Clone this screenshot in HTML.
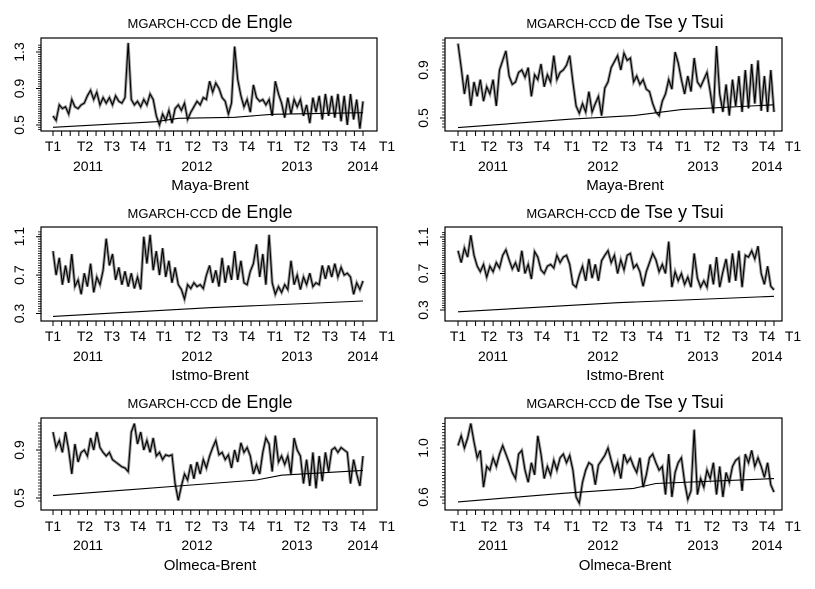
<!DOCTYPE html>
<html><head><meta charset="utf-8"><style>
html,body{margin:0;padding:0;background:#fff;}
svg{display:block;font-family:"Liberation Sans",sans-serif;}
</style></head><body>
<svg id="chart" width="815" height="589" viewBox="0 0 815 589"></svg>
<script>
// ---- data ----
const quarterLabels = ["T1","T2","T3","T4","T1","T2","T3","T4","T1","T2","T3","T4","T1"];
const yearLabels = ["2011","2012","2013","2014"];

const mayaEngle = [0.6,0.55,0.72,0.68,0.7,0.62,0.78,0.7,0.68,0.72,0.74,0.82,0.88,0.78,0.86,0.72,0.8,0.74,0.8,0.72,0.82,0.76,0.74,0.8,1.4,0.78,0.72,0.76,0.7,0.78,0.72,0.84,0.78,0.6,0.5,0.62,0.55,0.66,0.52,0.68,0.72,0.66,0.74,0.56,0.64,0.7,0.76,0.72,0.8,0.78,0.98,0.86,0.96,0.9,0.8,0.76,0.62,0.74,1.36,1.0,0.82,0.7,0.78,0.64,0.94,0.8,0.76,0.78,0.72,0.78,0.6,0.98,0.84,0.74,0.58,0.8,0.62,0.78,0.7,0.78,0.6,0.72,0.52,0.8,0.64,0.82,0.56,0.84,0.6,0.82,0.58,0.84,0.54,0.82,0.5,0.84,0.56,0.78,0.46,0.76];
const mayaEngleTrendIdx = [0,33,40,58,70,99];
const mayaEngleTrend = [0.475,0.536,0.573,0.584,0.617,0.635];

const mayaTse = [1.12,0.92,0.7,0.86,0.6,0.8,0.68,0.82,0.64,0.76,0.7,0.82,0.6,0.9,0.98,1.06,0.85,0.78,0.8,0.88,0.9,0.84,0.92,0.68,0.86,0.82,0.95,0.76,0.86,0.8,1.02,0.82,0.88,0.9,0.94,1.02,0.8,0.6,0.54,0.62,0.55,0.72,0.55,0.62,0.68,0.52,0.75,0.8,0.92,0.97,1.02,0.9,1.04,0.98,1.0,0.8,0.85,0.78,0.82,0.74,0.72,0.62,0.55,0.52,0.64,0.7,0.82,0.74,1.05,0.96,0.82,0.7,0.85,0.72,1.0,0.8,0.76,0.82,0.88,0.72,0.54,1.1,0.7,0.55,0.78,0.52,0.82,0.6,0.85,0.55,0.9,0.58,0.95,0.62,0.98,0.56,0.85,0.55,0.9,0.55];
const mayaTseTrendIdx = [0,35,55,70,99];
const mayaTseTrend = [0.42,0.49,0.52,0.57,0.61];

const istmoEngle = [0.95,0.7,0.88,0.6,0.8,0.62,0.92,0.58,0.65,0.5,0.72,0.58,0.82,0.52,0.68,0.6,0.75,1.08,0.8,0.92,0.65,0.78,0.6,0.74,0.58,0.72,0.56,0.68,0.55,1.1,0.82,1.12,0.75,0.95,0.7,0.98,0.68,0.85,0.62,0.78,0.6,0.55,0.45,0.6,0.56,0.62,0.58,0.6,0.56,0.7,0.8,0.62,0.75,0.58,0.88,0.62,0.8,0.65,0.95,0.65,0.85,0.62,0.6,0.74,0.82,1.02,0.68,0.92,0.6,1.12,0.62,0.5,0.58,0.52,0.6,0.55,0.85,0.6,0.7,0.55,0.68,0.6,0.72,0.58,0.62,0.6,0.8,0.66,0.8,0.68,0.82,0.68,0.78,0.7,0.72,0.68,0.5,0.62,0.55,0.64];
const istmoEngleTrendIdx = [0,50,99];
const istmoEngleTrend = [0.27,0.36,0.43];

const istmoTse = [0.95,0.82,0.98,0.88,1.12,0.9,0.78,0.72,0.8,0.66,0.78,0.72,0.82,0.76,0.9,0.96,0.85,0.75,0.82,0.72,0.95,0.7,0.8,0.64,0.94,0.88,0.74,0.7,0.78,0.8,0.76,0.9,0.82,0.88,0.9,0.8,0.58,0.55,0.68,0.78,0.62,0.86,0.65,0.8,0.62,0.84,0.9,0.95,0.82,0.9,0.7,0.85,0.74,0.9,0.92,0.76,0.8,0.72,0.56,0.72,0.82,0.92,0.85,0.72,0.8,0.7,1.05,0.55,0.72,0.62,0.7,0.58,0.66,0.55,0.92,0.65,0.55,0.62,0.55,0.8,0.58,0.88,0.55,0.72,0.86,0.6,0.92,0.62,0.95,0.55,0.9,0.88,0.95,0.86,1.0,0.7,0.58,0.78,0.56,0.52];
const istmoTseTrendIdx = [0,50,99];
const istmoTseTrend = [0.28,0.38,0.45];

const olmecaEngle = [1.05,0.92,0.98,0.88,1.05,0.9,0.7,0.95,0.8,0.88,0.9,0.85,1.0,0.9,1.05,0.92,0.88,0.85,0.88,0.82,0.8,0.78,0.76,0.75,0.72,1.05,1.12,0.95,1.05,0.9,0.98,0.88,1.0,0.85,0.88,0.82,0.86,0.85,0.86,0.62,0.48,0.6,0.7,0.65,0.78,0.66,0.8,0.7,0.82,0.75,0.85,0.92,0.98,0.86,0.88,0.82,0.86,0.75,0.9,0.8,0.96,0.88,0.92,0.85,0.7,0.78,0.7,0.88,1.0,0.95,0.72,1.02,0.8,0.85,0.78,0.85,0.7,1.0,0.9,0.85,0.62,0.82,0.6,0.88,0.58,0.85,0.64,0.88,0.72,0.9,0.92,0.88,0.92,0.9,0.88,0.62,0.82,0.7,0.6,0.85];
const olmecaEngleTrendIdx = [0,40,65,73,99];
const olmecaEngleTrend = [0.52,0.6,0.65,0.69,0.73];

const olmecaTse = [1.02,1.1,1.0,1.08,1.2,1.05,0.92,0.98,0.68,0.85,0.82,0.92,0.85,0.95,1.02,0.95,0.88,0.8,0.75,0.95,0.98,0.82,0.72,0.88,0.78,1.1,0.95,0.75,0.85,0.78,0.9,0.82,0.92,0.95,0.88,0.94,0.82,0.6,0.55,0.72,0.82,0.88,0.86,0.7,0.86,0.9,0.94,1.0,0.9,0.8,0.88,0.75,0.95,0.88,0.92,0.85,0.8,0.92,0.68,0.78,0.92,0.95,0.88,0.82,0.85,0.62,0.95,0.6,0.8,0.88,0.92,0.72,0.58,0.65,1.15,0.62,0.75,0.68,0.82,0.75,0.88,0.62,0.85,0.6,0.8,0.72,0.85,0.9,0.92,0.65,0.95,0.88,0.98,0.85,0.92,0.85,0.76,0.88,0.7,0.64];
const olmecaTseTrendIdx = [0,33,55,62,99];
const olmecaTseTrend = [0.56,0.63,0.67,0.71,0.75];

const yTicksTL = [0.5,0.9,1.3];
const yTicksTR = [0.5,0.9];
const yTicksML = [0.3,0.7,1.1];
const yTicksMR = [0.3,0.7,1.1];
const yTicksBL = [0.5,0.9];
const yTicksBR = [0.6,1.0];

// ---- layout ----
const LEFT = {box:[41,377], ax:[53,363], qlab:[53,85,112,138,164,193,220,247,275,302,330,358,387], ylab:[88,197,297,363], title:210};
const RIGHT = {box:[445,782], ax:[458,774], qlab:[458,489,515,542,572,600,628,655,683,712,740,767,793], ylab:[493,603,703,767], title:625};
const ROWS = [
 {top:38,bot:131,qy:151,yy:171,xl:190,ty:28},
 {top:227,bot:321,qy:341,yy:361,xl:380,ty:218},
 {top:418,bot:510,qy:531,yy:550,xl:570,ty:408}
];
const panels = [
 {col:LEFT,row:0,name:"maya-engle",method:"de Engle",pair:"Maya-Brent",series:mayaEngle,ti:mayaEngleTrendIdx,tv:mayaEngleTrend,ticks:yTicksTL,v0:0.5,p0:125,v1:1.3,p1:52,lo:0.45,hi:1.38},
 {col:RIGHT,row:0,name:"maya-tse",method:"de Tse y Tsui",pair:"Maya-Brent",series:mayaTse,ti:mayaTseTrendIdx,tv:mayaTseTrend,ticks:yTicksTR,v0:0.5,p0:118,v1:0.9,p1:70,lo:0.42,hi:1.15},
 {col:LEFT,row:1,name:"istmo-engle",method:"de Engle",pair:"Istmo-Brent",series:istmoEngle,ti:istmoEngleTrendIdx,tv:istmoEngleTrend,ticks:yTicksML,v0:0.3,p0:313.5,v1:1.1,p1:236.7,lo:0.28,hi:1.15},
 {col:RIGHT,row:1,name:"istmo-tse",method:"de Tse y Tsui",pair:"Istmo-Brent",series:istmoTse,ti:istmoTseTrendIdx,tv:istmoTseTrend,ticks:yTicksMR,v0:0.3,p0:310,v1:1.1,p1:237,lo:0.28,hi:1.15},
 {col:LEFT,row:2,name:"olmeca-engle",method:"de Engle",pair:"Olmeca-Brent",series:olmecaEngle,ti:olmecaEngleTrendIdx,tv:olmecaEngleTrend,ticks:yTicksBL,v0:0.5,p0:498,v1:0.9,p1:450,lo:0.46,hi:1.14},
 {col:RIGHT,row:2,name:"olmeca-tse",method:"de Tse y Tsui",pair:"Olmeca-Brent",series:olmecaTse,ti:olmecaTseTrendIdx,tv:olmecaTseTrend,ticks:yTicksBR,v0:0.6,p0:497,v1:1.0,p1:448,lo:0.55,hi:1.22}
];

const NS="http://www.w3.org/2000/svg";
const svg=document.getElementById('chart');
function mk(tag,attrs,parent){const e=document.createElementNS(NS,tag);for(const k in attrs)e.setAttribute(k,attrs[k]);(parent||svg).appendChild(e);return e;}

panels.forEach(p=>{
  const c=p.col, r=ROWS[p.row];
  const g=mk('g',{});
  
  
  const y=v=>p.p0+(v-p.v0)*(p.p1-p.p0)/(p.v1-p.v0);
  const N=p.series.length;
  const x=i=>c.ax[0]+i*(c.ax[1]-c.ax[0])/(N-1);
  const t=mk('text',{x:c.title,y:r.ty,'text-anchor':'middle','font-size':'18'},g);
  
  
  const s1=mk('tspan',{'font-size':'13'},t); s1.textContent='MGARCH-CCD ';
  const s2=mk('tspan',{},t); s2.textContent=p.method;
  const b=mk('rect',{x:c.box[0],y:r.top,width:c.box[1]-c.box[0],height:r.bot-r.top,fill:'none',stroke:'#000','stroke-width':'1.2'},g);
  
  
  for(let v=Math.ceil(p.lo/0.025)*0.025; v<=p.hi+1e-9; v+=0.025){
    const yy=y(v); if(yy<r.top-1||yy>r.bot+1) continue;
    mk('line',{x1:c.box[0]-3,x2:c.box[0],y1:yy,y2:yy,stroke:'#000','stroke-width':'0.8'},g);
  }
  p.ticks.forEach(v=>{
    const yy=y(v);
    mk('line',{x1:c.box[0]-5,x2:c.box[0],y1:yy,y2:yy,stroke:'#000','stroke-width':'1'},g);
    const lt=mk('text',{x:0,y:0,'text-anchor':'middle','font-size':'14',transform:`translate(${c.box[0]-17},${yy}) rotate(-90)`},g);
    
    
    lt.textContent=v.toFixed(1);
  });
  for(let m=0;m<=36;m++){
    const xx=c.ax[0]+m*(c.ax[1]-c.ax[0])/36;
    mk('line',{x1:xx,x2:xx,y1:r.bot,y2:r.bot+5,stroke:'#000','stroke-width':'1'},g);
  }
  quarterLabels.forEach((q,i)=>{
    const tx=mk('text',{x:c.qlab[i],y:r.qy,'text-anchor':'middle','font-size':'14'},g);
    
    
    tx.textContent=q;
  });
  yearLabels.forEach((yl,i)=>{
    const tx=mk('text',{x:c.ylab[i],y:r.yy,'text-anchor':'middle','font-size':'14'},g);
    
    
    tx.textContent=yl;
  });
  const xl=mk('text',{x:c.title,y:r.xl,'text-anchor':'middle','font-size':'15'},g);
  
  
  xl.textContent=p.pair;
  const pts=p.series.map((v,i)=>x(i).toFixed(1)+','+y(v).toFixed(1)).join(' ');
  const halo=mk('polyline',{points:pts,fill:'none',stroke:'#999','stroke-width':'3'},g);
  
  
  const ln=mk('polyline',{points:pts,fill:'none',stroke:'#000','stroke-width':'1.1'},g);
  
  
  const tp=p.ti.map((ix,k)=>x(ix).toFixed(1)+','+y(p.tv[k]).toFixed(1)).join(' ');
  const tl=mk('polyline',{points:tp,fill:'none',stroke:'#000','stroke-width':'1.1'},g);
  
  
});
</script>
</body></html>
